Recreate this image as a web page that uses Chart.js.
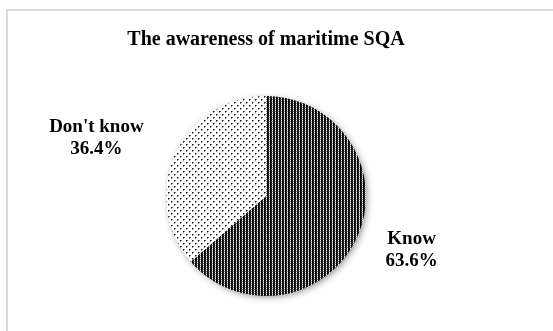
<!DOCTYPE html>
<html>
<head>
<meta charset="utf-8">
<script src="https://cdn.jsdelivr.net/npm/chart.js@4.4.1/dist/chart.umd.min.js"></script>
<style>
  html, body { margin: 0; padding: 0; background: #fff; }
  #wrap { width: 553px; height: 331px; position: relative; }
</style>
</head>
<body>
<div id="wrap"><canvas id="chart" width="553" height="331"></canvas></div>
<script>
// answers to "do you know maritime SQA"
const labels = ['Know', "Don't know"];
const shares = [63.6, 36.4];

const serif = '"Liberation Serif", "Times New Roman", serif';

// dense vertical hatch for the "Know" slice
function stripePattern() {
  const c = document.createElement('canvas');
  c.width = 3; c.height = 2;
  const g = c.getContext('2d');
  g.fillStyle = '#fff'; g.fillRect(0, 0, 3, 2);
  g.fillStyle = '#000'; g.fillRect(0, 0, 2, 2);
  g.fillStyle = '#333'; g.fillRect(1, 1, 1, 1);
  g.fillStyle = '#888'; g.fillRect(2, 1, 1, 1);
  return g.createPattern(c, 'repeat');
}

// sparse dot grid for the "Don't know" slice
function dotPattern() {
  const c = document.createElement('canvas');
  c.width = 6; c.height = 6;
  const g = c.getContext('2d');
  g.fillStyle = '#fff'; g.fillRect(0, 0, 6, 6);
  g.fillStyle = '#111';
  g.fillRect(0, 0, 1, 1);
  g.fillRect(3, 3, 1, 1);
  g.fillStyle = '#777';
  g.fillRect(1, 0, 1, 1);
  g.fillRect(0, 1, 1, 1);
  g.fillRect(4, 3, 1, 1);
  g.fillRect(3, 4, 1, 1);
  return g.createPattern(c, 'repeat');
}

// thin grey frame around the plot
const frame = {
  id: 'frame',
  beforeDraw(chart) {
    const ctx = chart.ctx;
    ctx.save();
    ctx.strokeStyle = '#d9d9d9';
    ctx.lineWidth = 2;
    ctx.strokeRect(7, 10, 700, 500);
    ctx.restore();
  }
};

// soft drop shadow under the pie
const pieShadow = {
  id: 'pieShadow',
  beforeDatasetsDraw(chart) {
    const arc = chart.getDatasetMeta(0).data[0];
    const ctx = chart.ctx;
    ctx.save();
    ctx.shadowColor = 'rgba(0,0,0,0.45)';
    ctx.shadowBlur = 7;
    ctx.shadowOffsetX = 2;
    ctx.shadowOffsetY = 2;
    ctx.fillStyle = '#fff';
    ctx.beginPath();
    ctx.arc(arc.x, arc.y, arc.outerRadius - 1, 0, Math.PI * 2);
    ctx.fill();
    ctx.restore();
  }
};

// category name and percentage outside each slice
const labelNudge = [[0, -12], [-24, 8]];
const outsideLabels = {
  id: 'outsideLabels',
  afterDatasetsDraw(chart) {
    const ctx = chart.ctx;
    const meta = chart.getDatasetMeta(0);
    ctx.save();
    ctx.fillStyle = '#000';
    ctx.font = 'bold 19px ' + serif;
    ctx.textAlign = 'center';
    ctx.textBaseline = 'middle';
    meta.data.forEach((arc, i) => {
      const mid = (arc.startAngle + arc.endAngle) / 2;
      const d = arc.outerRadius * 1.6;
      const x = arc.x + Math.cos(mid) * d + labelNudge[i][0];
      const y = arc.y + Math.sin(mid) * d + labelNudge[i][1];
      ctx.fillText(labels[i], x, y - 11);
      ctx.fillText(shares[i].toFixed(1) + '%', x, y + 11);
    });
    ctx.restore();
  }
};

new Chart(document.getElementById('chart'), {
  type: 'pie',
  data: {
    labels: labels,
    datasets: [{
      data: shares,
      backgroundColor: [stripePattern(), dotPattern()],
      borderWidth: 0
    }]
  },
  options: {
    responsive: false,
    animation: false,
    layout: { padding: { left: 66, right: 87, top: 0, bottom: 35 } },
    plugins: {
      legend: { display: false },
      tooltip: { enabled: false },
      title: {
        display: true,
        text: 'The awareness of maritime SQA',
        color: '#000',
        font: { family: serif, size: 20, weight: 'bold', lineHeight: 1.2 },
        padding: { top: 28, bottom: 44 }
      }
    }
  },
  plugins: [frame, pieShadow, outsideLabels]
});
</script>
</body>
</html>
